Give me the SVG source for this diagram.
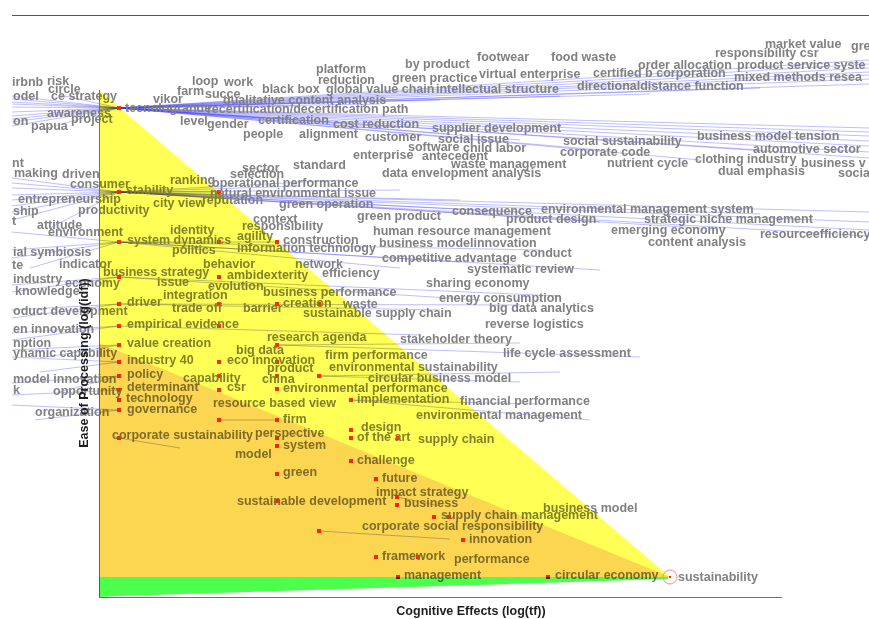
<svg xmlns="http://www.w3.org/2000/svg" width="869" height="619" viewBox="0 0 869 619">
<style>
text{font-family:"Liberation Sans",Arial,sans-serif;font-weight:bold;font-size:12.5px;fill:#818181}
.ax{fill:#1e1e1e}
.bl{stroke:#3a3aff;stroke-opacity:.33;stroke-width:1;fill:none}
.m{fill:#ff2a00}
</style>
<rect width="869" height="619" fill="#fff"/>
<line x1="12" y1="15.5" x2="869" y2="15.5" stroke="#555" stroke-width="1"/>
<g id="connectors">
<path class="bl" d="M119,108L12,96M119,108L12,99M119,108L12,102M119,108L12,104M119,108L12,107M119,108L12,112M119,108L12,116M119,108L12,119M119,108L12,122M119,108L12,126M119,108L40,130M119,108L60,95"/>
<path class="bl" d="M119,108L869,60M119,108L869,64M119,108L869,68M119,108L869,72M119,108L869,75M119,108L869,79M119,108L869,84M119,108L760,88M119,108L650,94M119,108L560,96M119,108L440,100M119,108L380,104M119,108L300,106"/>
<path class="bl" d="M119,108L869,128M119,108L869,132M119,108L869,136M119,108L869,141M119,108L869,146M119,108L869,152M119,108L869,158M119,108L760,150M119,108L700,160M119,108L600,150M119,108L520,140M119,108L450,134M119,108L400,128M119,108L330,122M119,108L260,118"/>
<path class="bl" d="M119,192L12,178M119,192L12,183M119,192L12,188M119,192L12,195M119,192L12,200M119,192L12,206M119,192L12,212M119,192L12,220M119,192L50,228"/>
<path class="bl" d="M119,192L869,212M119,192L869,222M119,192L869,230M119,192L869,236M119,192L760,214M119,192L700,228M119,192L600,222M119,192L520,212M119,192L460,200M119,192L400,190M119,192L340,180M119,192L300,186M119,192L219,192"/>
<path class="bl" d="M119,242L12,232M119,242L12,250M119,242L12,258M119,242L30,268M119,242L540,250M119,242L460,262M119,242L400,268M119,242L600,270M119,242L277,242"/>
<path class="bl" d="M119,277L12,285M119,277L12,292M119,277L480,300M119,277L560,296M119,304L12,310M119,304L12,318M119,304L440,310M119,304L520,305M119,326L12,333M119,326L12,340M119,326L420,335"/>
<path class="bl" d="M119,345L12,350M119,345L40,358M119,362L12,357M119,362L40,372M119,376L12,383M119,376L60,392M119,390L12,395M119,410L35,420M119,410L12,405"/>
<path class="bl" d="M277,345L520,343M277,345L640,357M319,376L560,372M319,376L520,382M351,400L540,404M351,400L590,420M119,438L180,448M319,531L450,539M397,497L440,506M219,420L277,420"/>
</g>
<line x1="99.5" y1="90" x2="99.5" y2="597" stroke="#7a7a7a" stroke-width="1"/>
<g id="labels">
<g id="n1"><text x="765" y="48">market value</text></g>
<g id="n2"><text x="851" y="50">gre</text></g>
<g id="n3"><text x="715" y="57">responsibility csr</text></g>
<g id="n4"><text x="477" y="61">footwear</text></g>
<g id="n5"><text x="551" y="61">food waste</text></g>
<g id="n6"><text x="405" y="68">by product</text></g>
<g id="n7"><text x="638" y="69">order allocation</text></g>
<g id="n8"><text x="737" y="69">product service syste</text></g>
<g id="n9"><text x="316" y="73">platform</text></g>
<g id="n10"><text x="593" y="77">certified b corporation</text></g>
<g id="n11"><text x="479" y="78">virtual enterprise</text></g>
<g id="n12"><text x="734" y="81">mixed methods resea</text></g>
<g id="n13"><text x="392" y="82">green practice</text></g>
<g id="n14"><text x="318" y="84">reduction</text></g>
<g id="n15"><text x="12" y="86">irbnb</text></g>
<g id="n16"><text x="47" y="85">risk</text></g>
<g id="n17"><text x="192" y="85">loop</text></g>
<g id="n18"><text x="224" y="86">work</text></g>
<g id="n19"><text x="577" y="90">directionaldistance function</text></g>
<g id="n20"><text x="48" y="93">circle</text></g>
<g id="n21"><text x="262" y="93">black box</text></g>
<g id="n22"><text x="326" y="93">global value chain</text></g>
<g id="n23"><text x="436" y="93">intellectual structure</text></g>
<g id="n24"><text x="177" y="95">farm</text></g>
<g id="n25"><text x="205" y="98">succe</text></g>
<g id="n26"><text x="13" y="100">odel</text></g>
<g id="n27"><text x="51" y="100">ce strategy</text></g>
<g id="n28"><text x="153" y="103">vikor</text></g>
<g id="n29"><text x="223" y="104">qualitative content analysis</text></g>
<g id="n30"><rect class="m" x="117" y="106" width="4" height="4"/><text x="125" y="112">tecnologrande</text></g>
<g id="n31"><text x="207" y="113">recertification/decertification path</text></g>
<g id="n32"><text x="47" y="117">awareness</text></g>
<g id="n33"><text x="71" y="123">project</text></g>
<g id="n34"><text x="258" y="124">certification</text></g>
<g id="n35"><text x="180" y="125">level</text></g>
<g id="n36"><text x="13" y="125">on</text></g>
<g id="n37"><text x="207" y="128">gender</text></g>
<g id="n38"><text x="333" y="128">cost reduction</text></g>
<g id="n39"><text x="31" y="130">papua</text></g>
<g id="n40"><text x="432" y="132">supplier development</text></g>
<g id="n41"><text x="243" y="138">people</text></g>
<g id="n42"><text x="299" y="138">alignment</text></g>
<g id="n43"><text x="365" y="141">customer</text></g>
<g id="n44"><text x="697" y="140">business model tension</text></g>
<g id="n45"><text x="438" y="143">social issue</text></g>
<g id="n46"><text x="563" y="145">social sustainability</text></g>
<g id="n47"><text x="408" y="151">software</text></g>
<g id="n48"><text x="463" y="152">child labor</text></g>
<g id="n49"><text x="753" y="153">automotive sector</text></g>
<g id="n50"><text x="560" y="156">corporate code</text></g>
<g id="n51"><text x="353" y="159">enterprise</text></g>
<g id="n52"><text x="422" y="160">antecedent</text></g>
<g id="n53"><text x="695" y="163">clothing industry</text></g>
<g id="n54"><text x="607" y="167">nutrient cycle</text></g>
<g id="n55"><text x="801" y="167">business v</text></g>
<g id="n56"><text x="12" y="167">nt</text></g>
<g id="n57"><text x="451" y="168">waste management</text></g>
<g id="n58"><text x="293" y="169">standard</text></g>
<g id="n59"><text x="242" y="172">sector</text></g>
<g id="n60"><text x="718" y="175">dual emphasis</text></g>
<g id="n61"><text x="838" y="177">socia</text></g>
<g id="n62"><text x="14" y="177">making</text></g>
<g id="n63"><text x="382" y="177">data envelopment analysis</text></g>
<g id="n64"><text x="62" y="178">driven</text></g>
<g id="n65"><text x="230" y="178">selection</text></g>
<g id="n66"><text x="170" y="184">ranking</text></g>
<g id="n67"><text x="212" y="187">operational performance</text></g>
<g id="n68"><text x="70" y="188">consumer</text></g>
<g id="n69"><rect class="m" x="117" y="190" width="4" height="4"/><text x="126" y="194">stability</text></g>
<g id="n70"><rect class="m" x="217" y="190" width="4" height="4"/><text x="210" y="197">natural environmental issue</text></g>
<g id="n71"><text x="18" y="203">entrepreneurship</text></g>
<g id="n72"><text x="202" y="204">reputation</text></g>
<g id="n73"><text x="153" y="207">city view</text></g>
<g id="n74"><text x="279" y="208">green operation</text></g>
<g id="n75"><text x="541" y="213">environmental management system</text></g>
<g id="n76"><text x="78" y="214">productivity</text></g>
<g id="n77"><text x="13" y="215">ship</text></g>
<g id="n78"><text x="452" y="215">consequence</text></g>
<g id="n79"><text x="357" y="220">green product</text></g>
<g id="n80"><text x="506" y="223">product design</text></g>
<g id="n81"><text x="644" y="223">strategic niche management</text></g>
<g id="n82"><text x="253" y="223">context</text></g>
<g id="n83"><text x="12" y="225">t</text></g>
<g id="n84"><text x="37" y="229">attitude</text></g>
<g id="n85"><text x="242" y="230">responsibility</text></g>
<g id="n86"><text x="611" y="234">emerging economy</text></g>
<g id="n87"><text x="170" y="234">identity</text></g>
<g id="n88"><text x="373" y="235">human resource management</text></g>
<g id="n89"><text x="48" y="236">environment</text></g>
<g id="n90"><text x="760" y="238">resourceefficiency</text></g>
<g id="n91"><text x="237" y="240">agility</text></g>
<g id="n92"><rect class="m" x="117" y="240" width="4" height="4"/><rect class="m" x="217" y="240" width="4" height="4"/><text x="127" y="244">system dynamics</text></g>
<g id="n93"><rect class="m" x="275" y="240" width="4" height="4"/><text x="283" y="244">construction</text></g>
<g id="n94"><text x="648" y="246">content analysis</text></g>
<g id="n95"><text x="379" y="247">business modelinnovation</text></g>
<g id="n96"><text x="237" y="252">information technology</text></g>
<g id="n97"><text x="172" y="254">politics</text></g>
<g id="n98"><text x="13" y="256">ial symbiosis</text></g>
<g id="n99"><text x="523" y="257">conduct</text></g>
<g id="n100"><text x="382" y="262">competitive advantage</text></g>
<g id="n101"><text x="59" y="268">indicator</text></g>
<g id="n102"><text x="203" y="268">behavior</text></g>
<g id="n103"><text x="295" y="268">network</text></g>
<g id="n104"><text x="12" y="269">te</text></g>
<g id="n105"><text x="467" y="273">systematic review</text></g>
<g id="n106"><rect class="m" x="117" y="275" width="4" height="4"/><text x="103" y="276">business strategy</text></g>
<g id="n107"><text x="322" y="277">efficiency</text></g>
<g id="n108"><rect class="m" x="217" y="275" width="4" height="4"/><text x="227" y="279">ambidexterity</text></g>
<g id="n109"><text x="13" y="283">industry</text></g>
<g id="n110"><text x="157" y="286">issue</text></g>
<g id="n111"><text x="65" y="287">economy</text></g>
<g id="n112"><text x="426" y="287">sharing economy</text></g>
<g id="n113"><text x="208" y="290">evolution</text></g>
<g id="n114"><text x="15" y="295">knowledge</text></g>
<g id="n115"><text x="263" y="296">business performance</text></g>
<g id="n116"><text x="163" y="299">integration</text></g>
<g id="n117"><text x="439" y="302">energy consumption</text></g>
<g id="n118"><rect class="m" x="117" y="302" width="4" height="4"/><text x="127" y="306">driver</text></g>
<g id="n119"><rect class="m" x="275" y="302" width="4" height="4"/><rect class="m" x="317" y="302" width="4" height="4"/><text x="283" y="307">creation</text></g>
<g id="n120"><text x="343" y="308">waste</text></g>
<g id="n121"><rect class="m" x="217" y="302" width="4" height="4"/><text x="172" y="312">trade off</text></g>
<g id="n122"><text x="243" y="312">barrier</text></g>
<g id="n123"><text x="489" y="312">big data analytics</text></g>
<g id="n124"><text x="13" y="315">oduct development</text></g>
<g id="n125"><text x="303" y="317">sustainable supply chain</text></g>
<g id="n126"><rect class="m" x="117" y="324" width="4" height="4"/><rect class="m" x="217" y="324" width="4" height="4"/><text x="127" y="328">empirical evidence</text></g>
<g id="n127"><text x="485" y="328">reverse logistics</text></g>
<g id="n128"><text x="13" y="333">en innovation</text></g>
<g id="n129"><rect class="m" x="275" y="343" width="4" height="4"/><text x="267" y="341">research agenda</text></g>
<g id="n130"><text x="400" y="343">stakeholder theory</text></g>
<g id="n131"><rect class="m" x="117" y="343" width="4" height="4"/><text x="127" y="347">value creation</text></g>
<g id="n132"><text x="13" y="347">nption</text></g>
<g id="n133"><text x="236" y="354">big data</text></g>
<g id="n134"><text x="13" y="357">ynamic capability</text></g>
<g id="n135"><text x="503" y="357">life cycle assessment</text></g>
<g id="n136"><text x="325" y="359">firm performance</text></g>
<g id="n137"><rect class="m" x="117" y="360" width="4" height="4"/><text x="127" y="364">industry 40</text></g>
<g id="n138"><rect class="m" x="217" y="360" width="4" height="4"/><rect class="m" x="275" y="360" width="4" height="4"/><text x="227" y="364">eco innovation</text></g>
<g id="n139"><text x="329" y="371">environmental sustainability</text></g>
<g id="n140"><rect class="m" x="275" y="374" width="4" height="4"/><rect class="m" x="317" y="374" width="4" height="4"/><text x="267" y="372">product</text></g>
<g id="n141"><rect class="m" x="117" y="374" width="4" height="4"/><text x="127" y="378">policy</text></g>
<g id="n142"><rect class="m" x="217" y="374" width="4" height="4"/><text x="183" y="382">capability</text></g>
<g id="n143"><text x="368" y="382">circular business model</text></g>
<g id="n144"><text x="13" y="383">model innovation</text></g>
<g id="n145"><text x="262" y="383">china</text></g>
<g id="n146"><rect class="m" x="117" y="388" width="4" height="4"/><text x="127" y="391">determinant</text></g>
<g id="n147"><rect class="m" x="217" y="388" width="4" height="4"/><text x="227" y="391">csr</text></g>
<g id="n148"><rect class="m" x="275" y="387" width="4" height="4"/><text x="283" y="392">environmental performance</text></g>
<g id="n149"><text x="13" y="394">k</text></g>
<g id="n150"><text x="53" y="395">opportunity</text></g>
<g id="n151"><rect class="m" x="117" y="398" width="4" height="4"/><text x="126" y="402">technology</text></g>
<g id="n152"><rect class="m" x="349" y="398" width="4" height="4"/><text x="357" y="403">implementation</text></g>
<g id="n153"><text x="460" y="405">financial performance</text></g>
<g id="n154"><text x="213" y="407">resource based view</text></g>
<g id="n155"><rect class="m" x="117" y="408" width="4" height="4"/><text x="127" y="413">governance</text></g>
<g id="n156"><text x="35" y="416">organization</text></g>
<g id="n157"><text x="416" y="419">environmental management</text></g>
<g id="n158"><rect class="m" x="217" y="418" width="4" height="4"/><rect class="m" x="275" y="418" width="4" height="4"/><text x="283" y="423">firm</text></g>
<g id="n159"><rect class="m" x="349" y="428" width="4" height="4"/><text x="361" y="431">design</text></g>
<g id="n160"><rect class="m" x="275" y="436" width="4" height="4"/><text x="255" y="437">perspective</text></g>
<g id="n161"><rect class="m" x="117" y="436" width="4" height="4"/><text x="112" y="439">corporate sustainability</text></g>
<g id="n162"><rect class="m" x="349" y="436" width="4" height="4"/><rect class="m" x="396" y="436" width="4" height="4"/><text x="357" y="441">of the art</text></g>
<g id="n163"><text x="418" y="443">supply chain</text></g>
<g id="n164"><rect class="m" x="275" y="444" width="4" height="4"/><text x="283" y="449">system</text></g>
<g id="n165"><text x="235" y="458">model</text></g>
<g id="n166"><rect class="m" x="349" y="459" width="4" height="4"/><text x="357" y="464">challenge</text></g>
<g id="n167"><rect class="m" x="275" y="472" width="4" height="4"/><text x="283" y="476">green</text></g>
<g id="n168"><rect class="m" x="374" y="477" width="4" height="4"/><text x="382" y="482">future</text></g>
<g id="n169"><text x="376" y="496">impact strategy</text></g>
<g id="n170"><rect class="m" x="275" y="499" width="4" height="4"/><text x="237" y="505">sustainable development</text></g>
<g id="n171"><rect class="m" x="395" y="495" width="4" height="4"/><rect class="m" x="395" y="503" width="4" height="4"/><text x="404" y="507">business</text></g>
<g id="n172"><text x="543" y="512">business model</text></g>
<g id="n173"><rect class="m" x="432" y="515" width="4" height="4"/><rect class="m" x="447" y="515" width="4" height="4"/><text x="441" y="519">supply chain management</text></g>
<g id="n174"><rect class="m" x="317" y="529" width="4" height="4"/><text x="362" y="530">corporate social responsibility</text></g>
<g id="n175"><rect class="m" x="461" y="538" width="4" height="4"/><text x="469" y="543">innovation</text></g>
<g id="n176"><rect class="m" x="374" y="555" width="4" height="4"/><rect class="m" x="416" y="555" width="4" height="4"/><text x="382" y="560">framework</text></g>
<g id="n177"><text x="454" y="563">performance</text></g>
<g id="n178"><rect class="m" x="396" y="575" width="4" height="4"/><text x="404" y="579">management</text></g>
<g id="n179"><rect class="m" x="546" y="575" width="4" height="4"/><text x="555" y="579">circular economy</text></g>
</g>
<g id="regions" style="mix-blend-mode:multiply">
<polygon points="99,90 670,577 99,577" fill="#ffff55"/>
<polygon points="99,343 670,577 99,577" fill="#fcd650"/>
<polygon points="99,577 668,577 668,579 120,596 99,597" fill="#4cff4c"/>
</g>
<g id="n180">
<circle cx="670" cy="577" r="7" fill="none" stroke="#ff8a8a" stroke-width="1"/>
<rect class="m" x="669" y="576" width="2" height="2"/>
<text x="678" y="581">sustainability</text>
</g>
<line x1="99" y1="597.5" x2="782" y2="597.5" stroke="#707070" stroke-width="1"/>
<g id="axes">
<text class="ax" x="471" y="615" text-anchor="middle">Cognitive Effects (log(tf))</text>
<text class="ax" transform="translate(88,363) rotate(-90)" text-anchor="middle">Ease of Processing (log(idf))</text>
</g>
</svg>
